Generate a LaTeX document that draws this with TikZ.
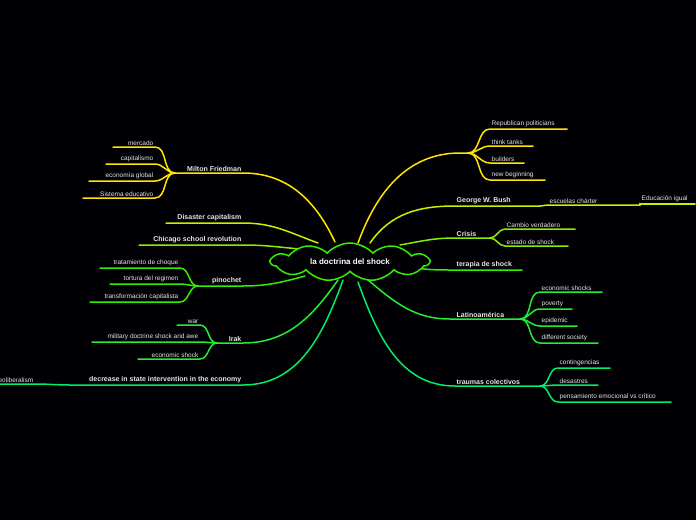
\documentclass[tikz,border=0pt]{standalone}
\usepackage{fontspec}
\setmainfont{Liberation Sans}
\usetikzlibrary{shapes.symbols}
\definecolor{cYel}{HTML}{FFE500}
\definecolor{cLim}{HTML}{CCEE00}
\definecolor{cChar}{HTML}{88EE00}
\definecolor{cGrn}{HTML}{33EE00}
\definecolor{cMid}{HTML}{22EE33}
\definecolor{cSpr}{HTML}{00EE66}
\definecolor{cText}{HTML}{E6E6E6}
\tikzset{
  branch/.style={line width=1.5pt, line cap=round},
  topic/.style={font=\bfseries\fontsize{7}{8}\selectfont, text=cText, inner sep=1.5pt},
  leaf/.style={font=\fontsize{6.5}{7}\selectfont, text=cText, inner sep=1.5pt},
}
% leaf on the left: hub, y, x start, x end, colour, text
\newcommand{\lleaf}[6]{%
  \coordinate (l#2) at (#4,#2);
  \draw[branch,#5] (#1) to[out=180,in=0] (#3,#2) -- (l#2);
  \node[leaf, anchor=south east] (t#2) at (#3,#2) {#6};}
% leaf on the right
\newcommand{\rleaf}[6]{%
  \coordinate (r#2) at (#4,#2);
  \draw[branch,#5] (#1) to[out=0,in=180] (#3,#2) -- (r#2);
  \node[leaf, anchor=south west] (t#2) at (#3,#2) {#6};}
\begin{document}
\begin{tikzpicture}[x=1pt,y=-1pt]
  \fill[black!98!blue] (0,0) rectangle (696,520);
  \useasboundingbox (0,0) rectangle (696,520);

  % left branches
  \coordinate (mf) at (175,173);
  \draw[branch,cYel] (mf) -- (243,173) to[out=0,in=115] (335,242);
  \node[topic, anchor=south east] (mfT) at (243,173) {Milton Friedman};
  \lleaf{mf}{147}{155}{113}{cYel}{mercado}
  \lleaf{mf}{164}{155}{106}{cYel}{capitalismo}
  \lleaf{mf}{181}{155}{89}{cYel}{economía global}
  \lleaf{mf}{198}{155}{83}{cYel}{Sistema educativo}

  \draw[branch,cLim] (166,223) -- (243,223) to[out=0,in=160] (318,243);
  \node[topic, anchor=south east] (dc) at (243,223) {Disaster capitalism};

  \draw[branch,cChar] (139,245) -- (243,245) to[out=0,in=175] (300,249);
  \node[topic, anchor=south east] (cs) at (243,245) {Chicago school revolution};

  \coordinate (pi) at (198,286);
  \draw[branch,cGrn] (pi) -- (243,286) to[out=0,in=195] (305,276);
  \node[topic, anchor=south east] (piT) at (243,286) {pinochet};
  \lleaf{pi}{268}{180}{100}{cGrn}{tratamiento de choque}
  \lleaf{pi}{284}{180}{110}{cGrn}{tortura del regimen}
  \lleaf{pi}{302}{180}{90}{cGrn}{transformación capitalista}

  \coordinate (ir) at (217,343);
  \draw[branch,cMid] (ir) -- (243,343) to[out=0,in=235] (338,280);
  \node[topic, anchor=south east] (irT) at (243,343) {Irak};
  \lleaf{ir}{325}{200}{177}{cMid}{war}
  \lleaf{ir}{342}{200}{92}{cMid}{military doctrine shock and awe}
  \lleaf{ir}{359}{200}{138}{cMid}{economic shock}

  \coordinate (de) at (70,385);
  \draw[branch,cSpr] (de) -- (243,385) to[out=0,in=250] (343,280);
  \node[topic, anchor=south east] (deT) at (243,385) {decrease in state intervention in the economy};
  \lleaf{de}{384}{35}{-5}{cSpr}{neoliberalism}

  % right branches
  \coordinate (rp) at (468,153);
  \draw[branch,cYel] (rp) -- (460,153) to[out=180,in=70] (358,243);
  \rleaf{rp}{129}{490}{567}{cYel}{Republican politicians}
  \rleaf{rp}{146}{490}{533}{cYel}{think tanks}
  \rleaf{rp}{163}{490}{524}{cYel}{builders}
  \rleaf{rp}{180}{490}{545}{cYel}{new beginning}

  \coordinate (gb) at (540,206);
  \draw[branch,cLim] (gb) -- (455,206) to[out=180,in=55] (370,243);
  \node[topic, anchor=south west] (gbT) at (455,206) {George W. Bush};
  \rleaf{gb}{205}{548}{640}{cLim}{escuelas chárter}
  \rleaf{r205}{204}{640}{695}{cLim}{Educación igual}

  \coordinate (cr) at (490,238);
  \draw[branch,cChar] (cr) -- (455,238) to[out=180,in=10] (400,245);
  \node[topic, anchor=south west] (crT) at (455,238) {Crisis};
  \rleaf{cr}{229}{505}{575}{cChar}{Cambio verdadero}
  \rleaf{cr}{246}{505}{568}{cChar}{estado de shock}

  \draw[branch,cGrn] (522,270) -- (455,270) to[out=180,in=-10] (410,267);
  \node[topic, anchor=south west] (ts) at (455,270) {terapia de shock};

  \coordinate (la) at (520,319);
  \draw[branch,cMid] (la) -- (450,319) to[out=180,in=-40] (368,280);
  \node[topic, anchor=south west] (laT) at (455,319) {Latinoamérica};
  \rleaf{la}{292}{540}{602}{cMid}{economic shocks}
  \rleaf{la}{309}{540}{572}{cMid}{poverty}
  \rleaf{la}{326}{540}{577}{cMid}{epidemic}
  \rleaf{la}{343}{540}{598}{cMid}{different society}

  \coordinate (tc) at (540,386);
  \draw[branch,cSpr] (tc) -- (455,386) to[out=180,in=-70] (358,282);
  \node[topic, anchor=south west] (tcT) at (455,386) {traumas colectivos};
  \rleaf{tc}{368}{558}{610}{cSpr}{contingencias}
  \rleaf{tc}{385}{558}{598}{cSpr}{desastres}
  \rleaf{tc}{402}{558}{671}{cSpr}{pensamiento emocional vs crítico}

  % central idea
  \node[cloud, cloud puffs=11, cloud puff arc=95, aspect=4.5, draw=cGrn, line width=1.5pt,
        fill=black!98!blue, text=white, minimum width=158pt, minimum height=34pt,
        inner sep=0pt, font=\bfseries\fontsize{8}{9}\selectfont] (root) at (350,262)
        {la doctrina del shock};
\end{tikzpicture}
\end{document}
